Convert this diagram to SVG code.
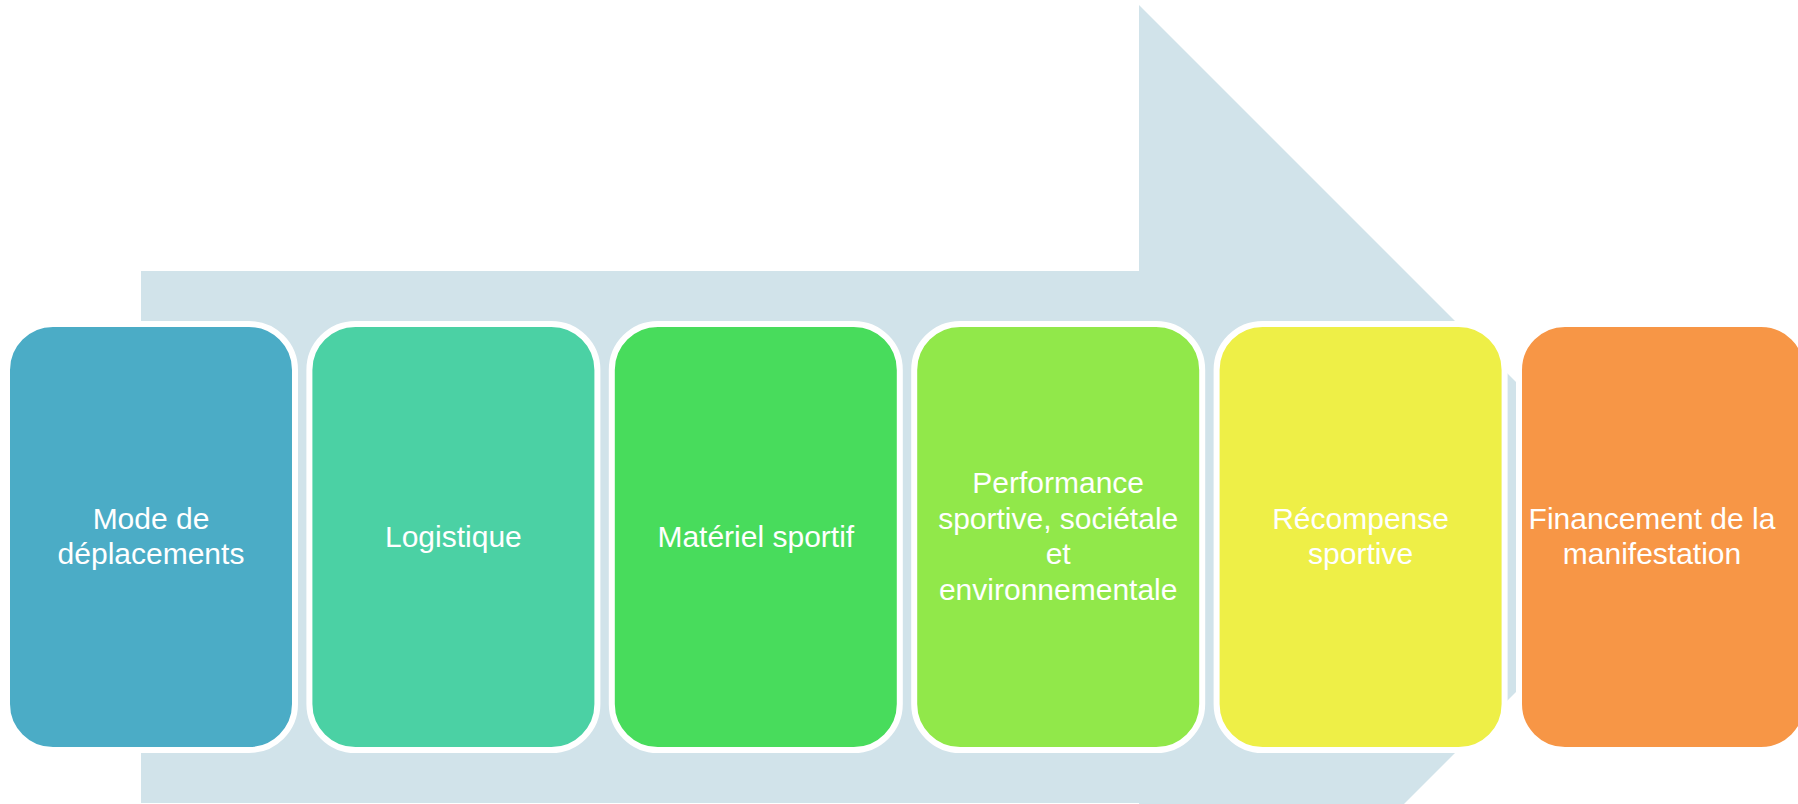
<svg xmlns="http://www.w3.org/2000/svg" width="1798" height="804" viewBox="0 0 1798 804">
  <style>
    .box { stroke: #FFFFFF; stroke-width: 6; }
    .lbl { font-family: "Liberation Sans", Arial, sans-serif; font-size: 30px; fill: #FFFFFF; text-anchor: middle; }
  </style>
  <rect x="0" y="0" width="1798" height="804" fill="#FFFFFF"/>
  <g id="connectors">
    <polygon id="arrow" points="141,271 1139,271 1139,5 1671,537 1139,1069 1139,803 141,803" fill="#D1E3EA"/>
  </g>
  <g id="node1">
    <rect class="box" x="7" y="324" width="288" height="426" rx="46" ry="46" fill="#4BACC6"/>
    <text class="lbl" x="151" y="529">Mode de</text>
    <text class="lbl" x="151" y="564">déplacements</text>
  </g>
  <g id="node2">
    <rect class="box" x="309.4" y="324" width="288" height="426" rx="46" ry="46" fill="#4BD1A4"/>
    <text class="lbl" x="453.4" y="547">Logistique</text>
  </g>
  <g id="node3">
    <rect class="box" x="611.8" y="324" width="288" height="426" rx="46" ry="46" fill="#48DC5C"/>
    <text class="lbl" x="755.8" y="547">Matériel sportif</text>
  </g>
  <g id="node4">
    <rect class="box" x="914.2" y="324" width="288" height="426" rx="46" ry="46" fill="#91E84A"/>
    <text class="lbl" x="1058.2" y="493">Performance</text>
    <text class="lbl" x="1058.2" y="528.5">sportive, sociétale</text>
    <text class="lbl" x="1058.2" y="564">et</text>
    <text class="lbl" x="1058.2" y="599.5">environnementale</text>
  </g>
  <g id="node5">
    <rect class="box" x="1216.6" y="324" width="288" height="426" rx="46" ry="46" fill="#EEEF47"/>
    <text class="lbl" x="1360.6" y="529">Récompense</text>
    <text class="lbl" x="1360.6" y="564">sportive</text>
  </g>
  <g id="node6">
    <rect class="box" x="1519" y="324" width="288" height="426" rx="46" ry="46" fill="#F79646"/>
    <text class="lbl" x="1652" y="529">Financement de la</text>
    <text class="lbl" x="1652" y="564">manifestation</text>
  </g>
</svg>
